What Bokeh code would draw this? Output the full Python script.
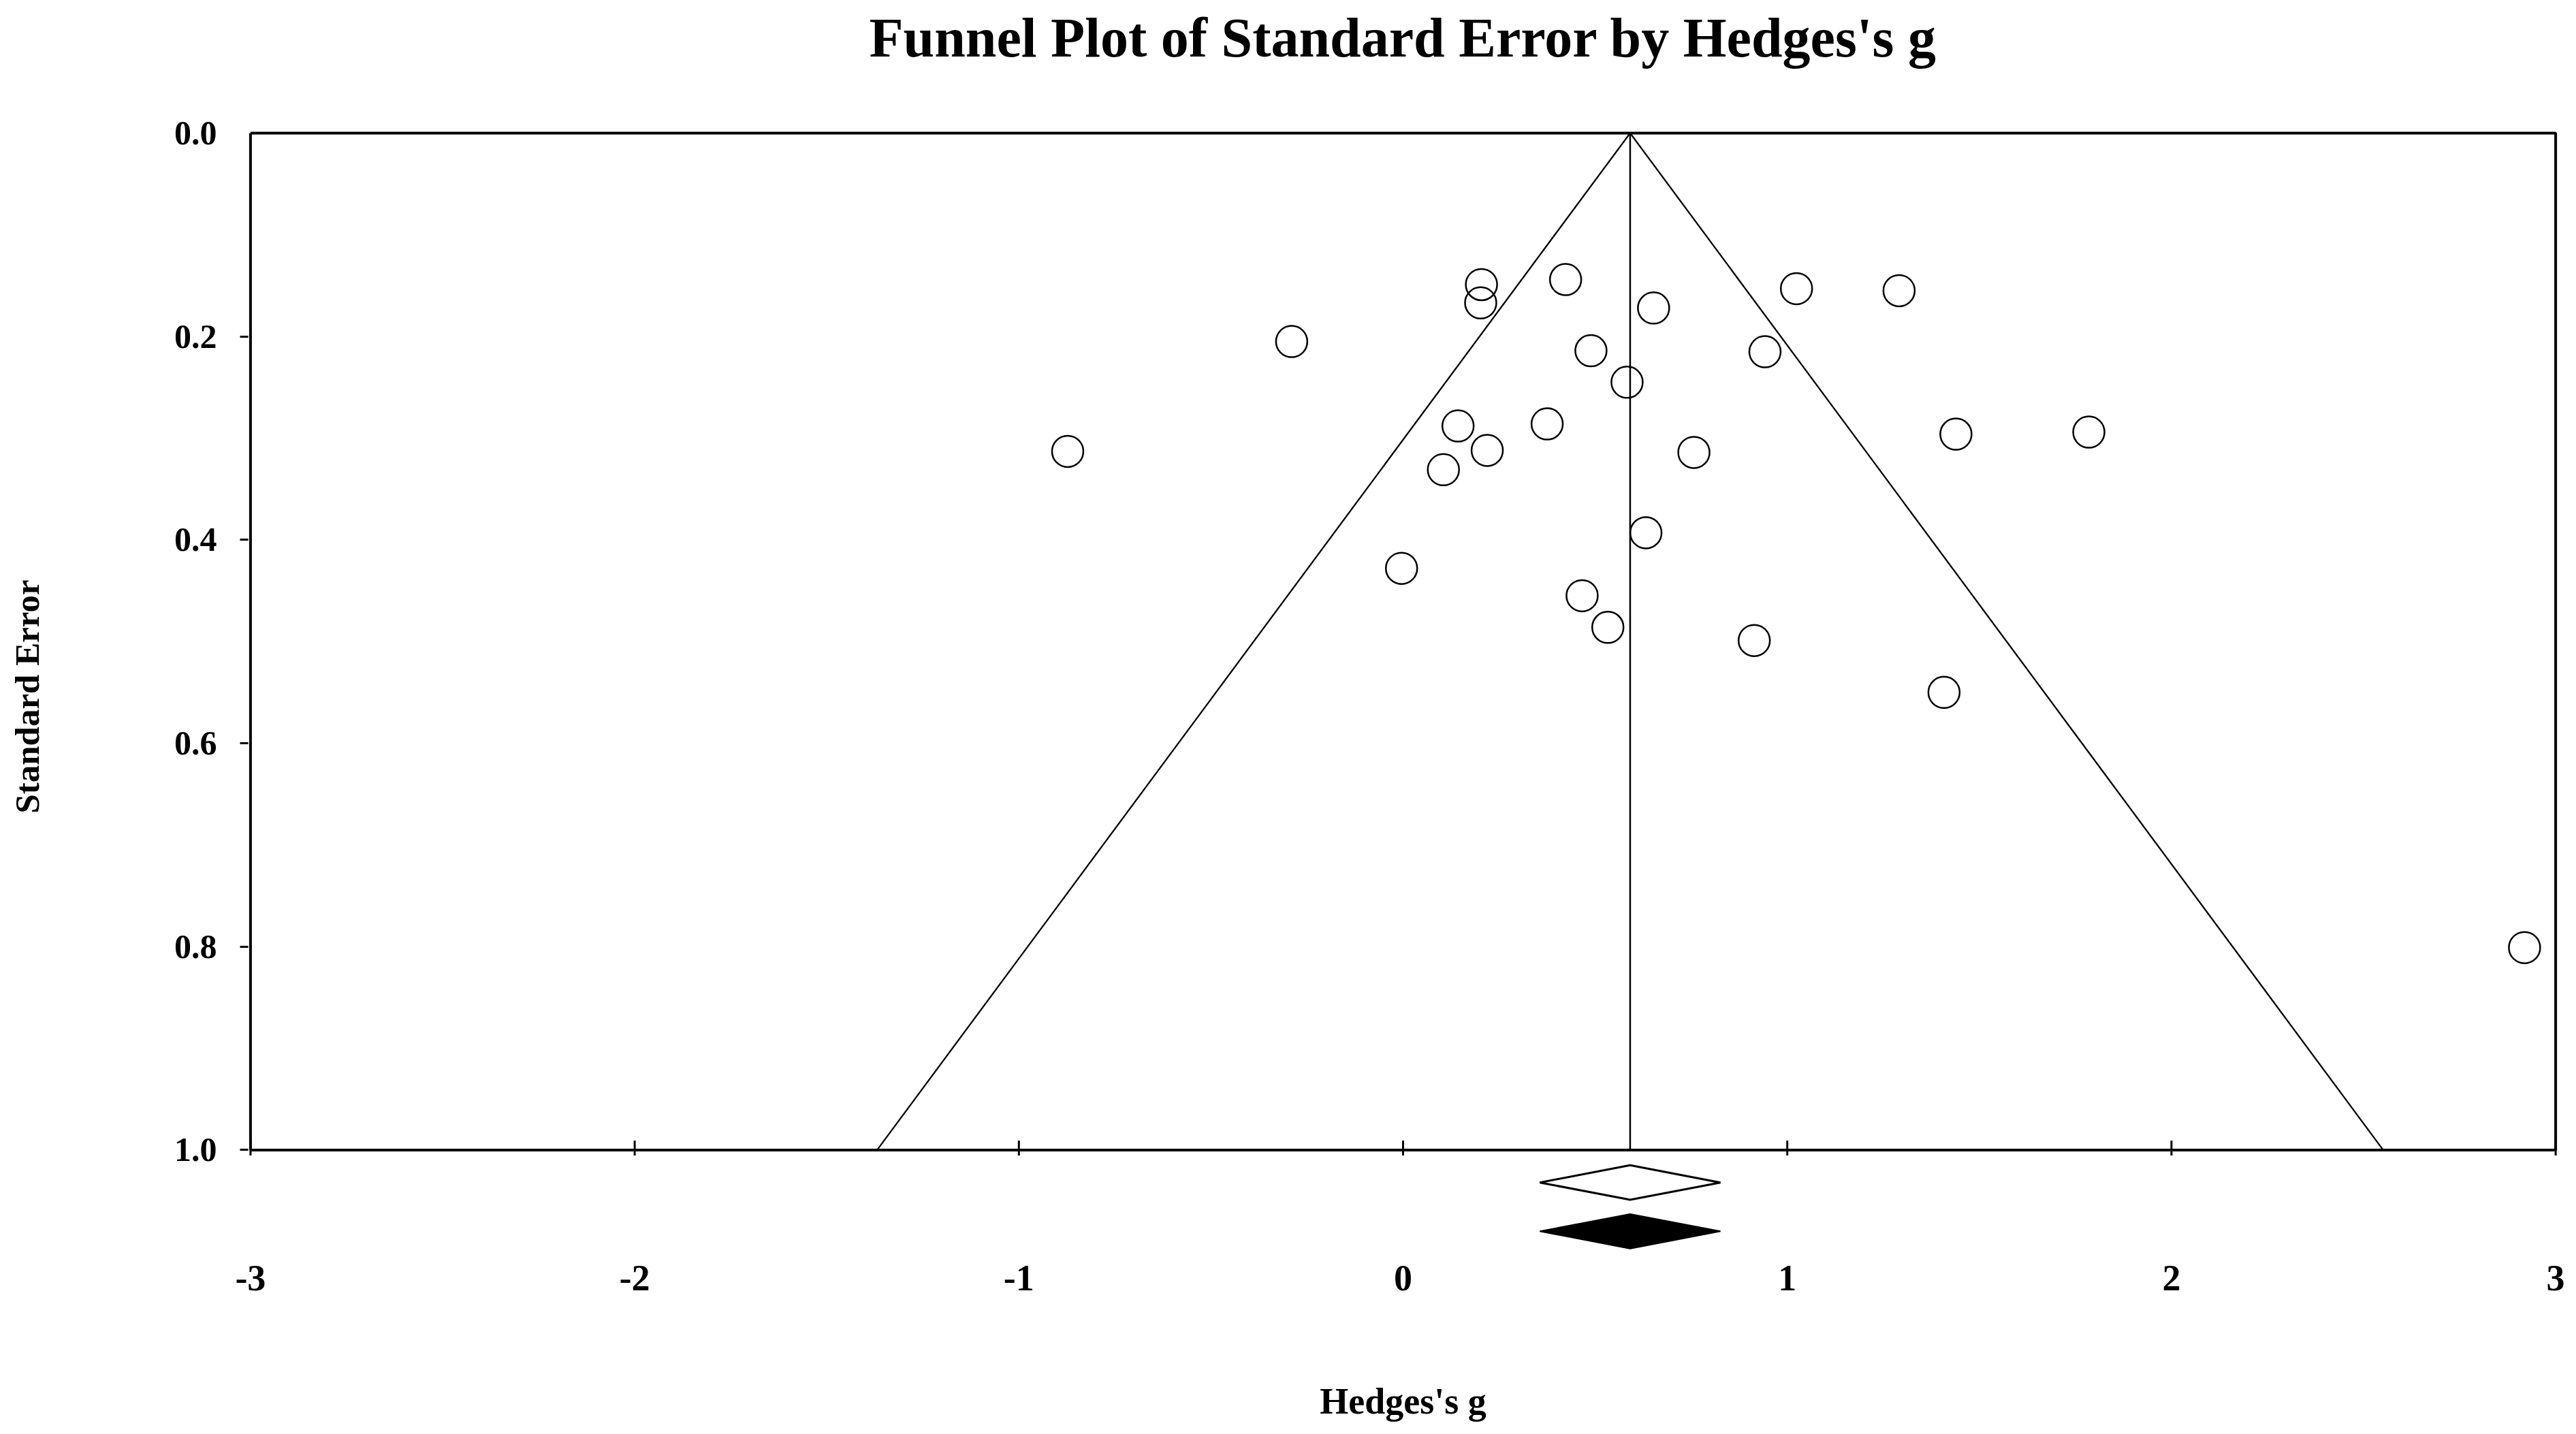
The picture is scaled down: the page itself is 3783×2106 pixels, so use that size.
from bokeh.plotting import figure
from bokeh.models import Range1d, FixedTicker, NumeralTickFormatter, CustomJSTickFormatter, Title
from bokeh.embed import file_html
from bokeh.resources import INLINE

# ---------------- data ----------------
hedges_g = [-0.873, -0.290, 0.204, 0.202, 0.423, 0.652, 1.024, 1.291, 0.489, 0.942,
            0.583, 0.143, 0.375, 0.219, 0.105, 0.757, 1.439, 1.785, 0.632, -0.004,
            0.466, 0.533, 0.914, 1.408, 2.919]
std_err = [0.313, 0.205, 0.149, 0.167, 0.144, 0.172, 0.153, 0.155, 0.214, 0.215,
           0.245, 0.288, 0.286, 0.312, 0.331, 0.314, 0.296, 0.294, 0.393, 0.428,
           0.455, 0.486, 0.499, 0.550, 0.801]

observed_g = 0.591
observed_ci = [0.356, 0.826]
adjusted_g = 0.591
adjusted_ci = [0.356, 0.826]

x_ticks = [-3, -2, -1, 0, 1, 2, 3]
y_ticks = [0.0, 0.2, 0.4, 0.6, 0.8, 1.0]

title_text = "Funnel Plot of Standard Error by Hedges's g"
x_label = "Hedges's g"
y_label = "Standard Error"

# ---------------- figure ----------------
FONT = "Liberation Serif"
z = 1.96

p = figure(title=None, frame_width=3392, frame_height=1667,
           x_range=Range1d(-3.006, 3.006), y_range=Range1d(1.11224, -0.004),
           output_backend="svg", toolbar_location=None,
           min_border_left=364, min_border_right=10,
           min_border_top=189, min_border_bottom=240,
           background_fill_color="white", border_fill_color="white")
p.outline_line_color = None
p.grid.visible = False

# title: an invisible spacer next to the frame, then the title text above it
p.add_layout(Title(text=" ", text_font_size="1px", standoff=86, text_color="white"), "above")
p.add_layout(Title(text=title_text, align="center", text_font=FONT, text_font_size="82px",
                   text_font_style="bold", text_color="black", standoff=0), "above")

# x axis: labels only (ticks drawn at SE = 1.0 inside the frame)
xa = p.xaxis[0]
xa.ticker = FixedTicker(ticks=x_ticks)
xa.formatter = CustomJSTickFormatter(code="return tick.toFixed(0)")
xa.axis_line_color = None
xa.major_tick_out = 0
xa.major_tick_in = 0
xa.minor_tick_out = 0
xa.minor_tick_in = 0
xa.major_label_standoff = 2
xa.major_label_text_font = FONT
xa.major_label_text_font_size = "54px"
xa.major_label_text_font_style = "bold"
xa.major_label_text_color = "black"
xa.axis_label = x_label
xa.axis_label_text_font = FONT
xa.axis_label_text_font_size = "54px"
xa.axis_label_text_font_style = "bold"
xa.axis_label_text_color = "black"
xa.axis_label_standoff = 130

# y axis
ya = p.yaxis[0]
ya.ticker = FixedTicker(ticks=y_ticks, minor_ticks=y_ticks[1:])
ya.formatter = NumeralTickFormatter(format="0.0")
ya.axis_line_color = None
ya.major_tick_out = 0
ya.major_tick_in = 0
ya.minor_tick_out = 12
ya.minor_tick_in = 0
ya.minor_tick_line_width = 3
ya.minor_tick_line_color = "black"
ya.major_label_standoff = 34
ya.major_label_text_font = FONT
ya.major_label_text_font_size = "50px"
ya.major_label_text_font_style = "bold"
ya.major_label_text_color = "black"
ya.axis_label = y_label
ya.axis_label_text_font = FONT
ya.axis_label_text_font_size = "51px"
ya.axis_label_text_font_style = "bold"
ya.axis_label_text_color = "black"
ya.axis_label_standoff = 185

# plot box from the axis extents
x0, x1 = x_ticks[0], x_ticks[-1]
s0, s1 = y_ticks[0], y_ticks[-1]
p.line([x0, x1, x1, x0, x0], [s0, s0, s1, s1, s0], line_color="black", line_width=4)

# x tick marks on the SE = 1.0 line
n = len(x_ticks)
p.segment(x0=x_ticks, y0=[s1 - 0.0092] * n, x1=x_ticks, y1=[s1 + 0.0054] * n,
          line_color="black", line_width=3)

# funnel (pseudo 95% limits) and mean line
p.line([observed_g - z * s1, observed_g, observed_g + z * s1], [s1, s0, s1],
       line_color="black", line_width=2.3)
p.segment(x0=[observed_g], y0=[s0], x1=[observed_g], y1=[s1],
          line_color="black", line_width=2.5)

# studies
p.scatter(hedges_g, std_err, marker="circle", size=46, fill_color=None,
          line_color="black", line_width=2.5)

# summary diamonds
h = 0.017
y_obs = 1.032
y_adj = 1.080
p.patch([observed_ci[0], observed_g, observed_ci[1], observed_g],
        [y_obs, y_obs - h, y_obs, y_obs + h],
        fill_color="white", line_color="black", line_width=3)
p.patch([adjusted_ci[0], adjusted_g, adjusted_ci[1], adjusted_g],
        [y_adj, y_adj - h, y_adj, y_adj + h],
        fill_color="black", line_color="black", line_width=2)

open("out.html", "w").write(file_html(p, INLINE))
